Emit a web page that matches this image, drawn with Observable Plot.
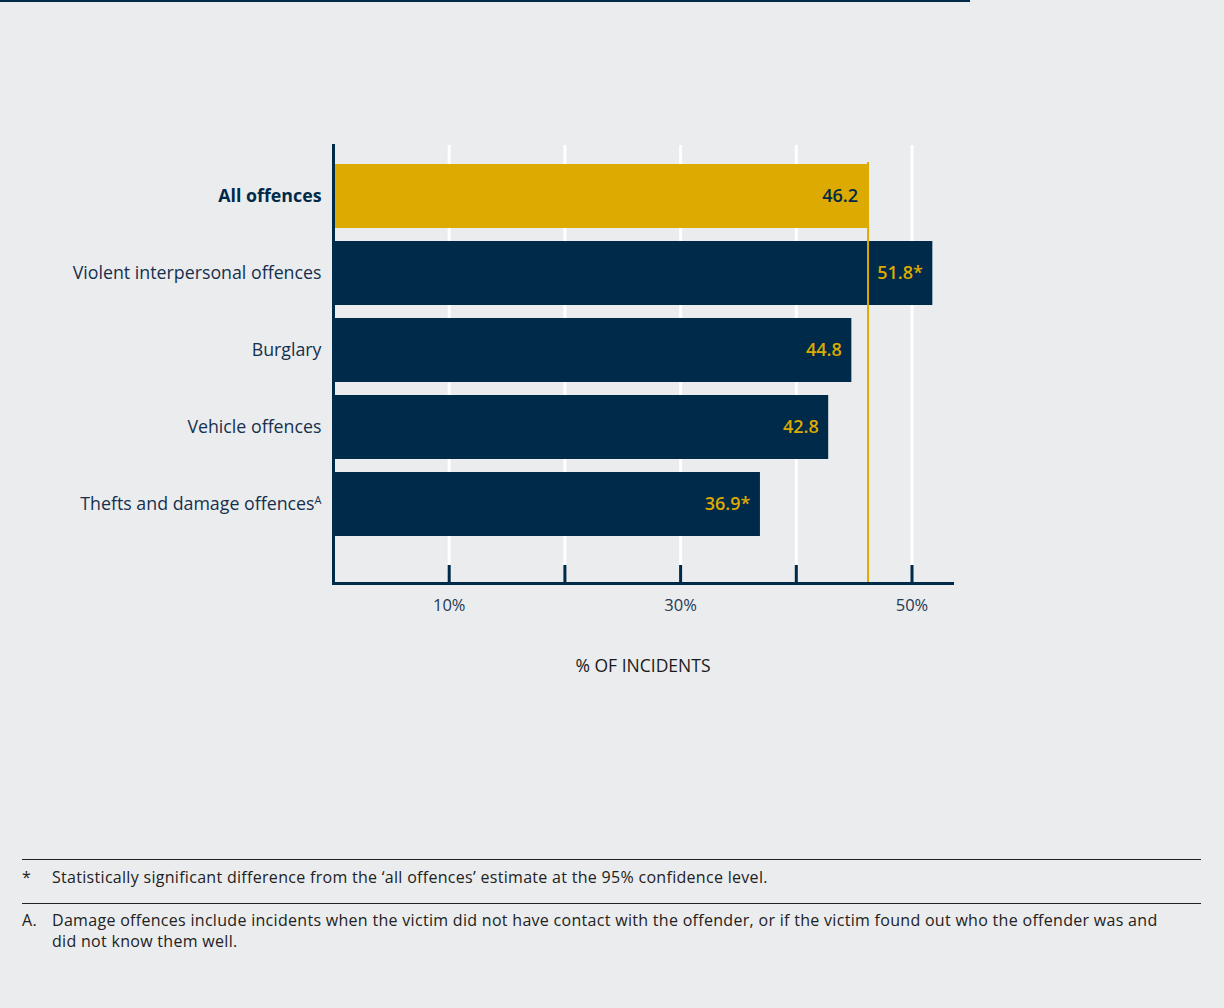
<!DOCTYPE html>
<html>
<head>
<meta charset="utf-8">
<script src="https://cdn.jsdelivr.net/npm/d3@7"></script>
<script src="https://cdn.jsdelivr.net/npm/@observablehq/plot@0.6"></script>
<style>
  html, body { margin: 0; padding: 0; background: #ebecee; }
  body { width: 1224px; height: 1008px; position: relative; overflow: hidden; font-family: "Open Sans", sans-serif; }
  #toprule { position: absolute; left: 0; top: 0; width: 970px; height: 2px; background: #002a49; }
  #chart { position: absolute; left: 0; top: 0; }
  .rule { position: absolute; left: 22px; width: 1179px; height: 0; border-top: 1.5px solid #222; }
  .note { position: absolute; left: 22px; width: 1140px; font-size: 16px; letter-spacing: 0.3px; color: #222; line-height: 21px; }
  .note .mk { position: absolute; left: 0; top: 0; }
  .note .tx { margin-left: 30px; width: 1110px; }
</style>
</head>
<body>
<div id="toprule"></div>
<div id="chart"></div>
<div class="rule" style="top:859px"></div>
<div class="note" style="top:867px"><span class="mk">*</span><div class="tx">Statistically significant difference from the ‘all offences’ estimate at the 95% confidence level.</div></div>
<div class="rule" style="top:903px"></div>
<div class="note" style="top:910px"><span class="mk">A.</span><div class="tx">Damage offences include incidents when the victim did not have contact with the offender, or if the victim found out who the offender was and did not know them well.</div></div>
<script>
const categories = ["All offences", "Violent interpersonal offences", "Burglary", "Vehicle offences", "Thefts and damage offences"];
const values = [46.2, 51.8, 44.8, 42.8, 36.9];
const valueLabels = ["46.2", "51.8*", "44.8", "42.8", "36.9*"];
const gridTicks = [10, 20, 30, 40, 50];
const labeledTicks = [10, 30, 50];
const referenceValue = 46.2;
const axisTitle = "% OF INCIDENTS";

const navy = "#002a49";
const gold = "#dcaa00";
const data = categories.map((c, i) => ({category: c, value: values[i], label: valueLabels[i], highlight: i === 0}));

const H = 700, plotTop = 145, plotBottom = 583;
const chart = Plot.plot({
  width: 1224,
  height: H,
  marginTop: plotTop,
  marginBottom: H - plotBottom,
  marginLeft: 333,
  marginRight: 1224 - 952,
  style: {background: "transparent", fontFamily: "'Open Sans', sans-serif"},
  x: {domain: [0, 53.5], axis: null},
  y: {domain: categories, range: [155.2, 544.2], paddingInner: 0.167, paddingOuter: 0.0835, axis: null},
  color: {type: "identity"},
  marks: [
    Plot.ruleX(gridTicks, {x: d => d, stroke: "white", strokeWidth: 3, insetBottom: 18}),
    Plot.barX(data, {x: "value", y: "category", fill: d => d.highlight ? gold : navy}),
    Plot.ruleX([referenceValue], {x: d => d, stroke: gold, strokeWidth: 2, insetTop: 17}),
    Plot.ruleX(gridTicks, {x: d => d, stroke: navy, strokeWidth: 3, insetTop: (plotBottom - plotTop) - 18}),
    Plot.frame({anchor: "left", stroke: navy, strokeWidth: 3}),
    Plot.frame({anchor: "bottom", stroke: navy, strokeWidth: 3}),
    Plot.text(data, {x: "value", y: "category", text: "label", dx: -10, textAnchor: "end",
      fill: d => d.highlight ? navy : gold, fontSize: 18, fontWeight: 600}),
    Plot.text(data.filter(d => !d.highlight), {x: 0, y: "category", text: "category", dx: -12, textAnchor: "end", fill: "#15304d", fontSize: 17.8}),
    Plot.text(data.filter(d => d.highlight), {x: 0, y: "category", text: "category", dx: -12, textAnchor: "end", fill: navy, fontSize: 17.8, fontWeight: 700}),
    Plot.text(labeledTicks, {x: d => d, frameAnchor: "bottom", dy: 27, text: d => d + "%", fill: "#1d3a55", fontSize: 16.5}),
    Plot.text([axisTitle], {frameAnchor: "bottom", dy: 88, text: d => d, fill: "#1a1a1a", fontSize: 17.5})
  ]
});
d3.select(chart).selectAll("text")
  .filter(function() { return this.textContent === "Thefts and damage offences"; })
  .append("tspan").attr("dy", "-0.55em").attr("font-size", 11).text("A");
document.getElementById("chart").appendChild(chart);
</script>
</body>
</html>
